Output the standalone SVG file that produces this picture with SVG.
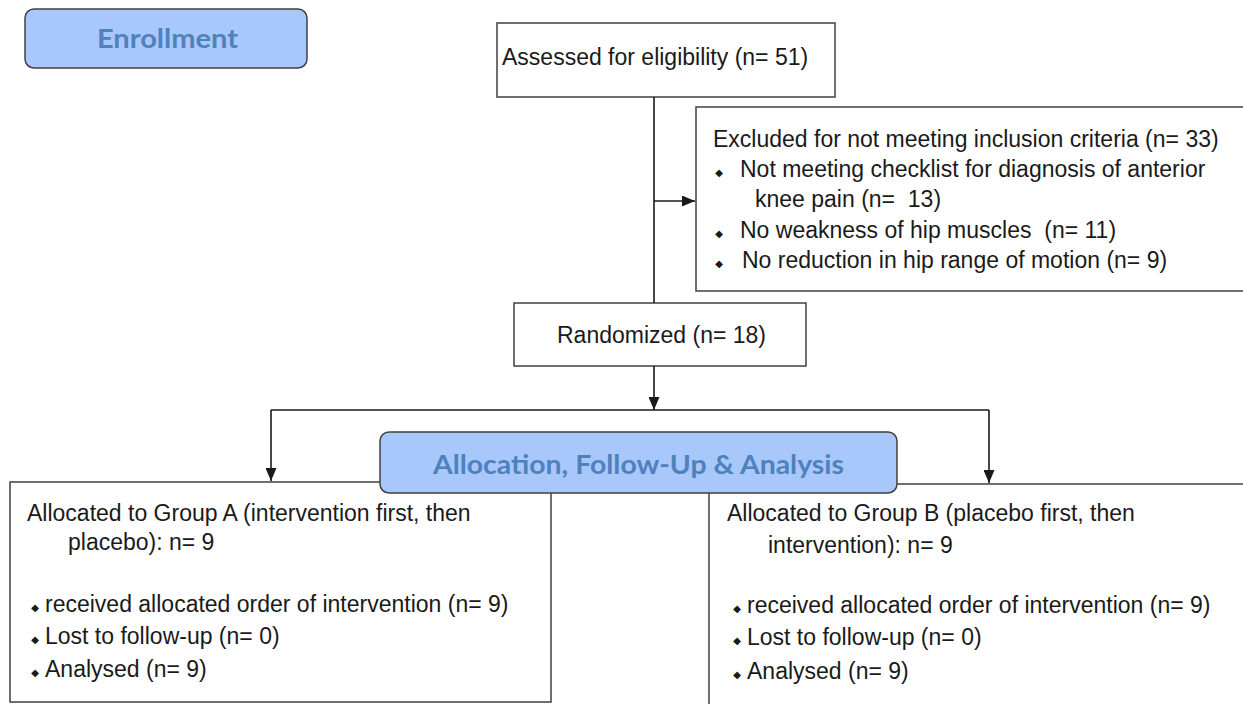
<svg xmlns="http://www.w3.org/2000/svg" width="1243" height="704" viewBox="0 0 1243 704">
<style>
  .box { fill: #ffffff; stroke: #404040; stroke-width: 1.5; }
  .hdr { fill: #a8c8fb; stroke: #404040; stroke-width: 1.5; }
  .t { font-family: "Liberation Sans", Arial, sans-serif; font-size: 23px; fill: #1a1a1a; white-space: pre; }
  .h { font-family: Lato, "Open Sans", sans-serif; font-weight: bold; font-size: 27px; fill: #4f81bd; }
  .b { font-family: "DejaVu Sans", sans-serif; font-size: 10px; fill: #1a1a1a; text-anchor: middle; dominant-baseline: central; }
  .c { fill: none; stroke: #1a1a1a; stroke-width: 1.6; }
</style>
<defs>
  <marker id="ah" viewBox="0 0 13 11" refX="13" refY="5.5" markerWidth="13" markerHeight="11" markerUnits="userSpaceOnUse" orient="auto">
    <path d="M0,0 L13,5.5 L0,11 Z" fill="#1a1a1a"/>
  </marker>
</defs>
<rect width="1243" height="704" fill="#ffffff"/>

<g id="enrollment">
  <rect class="hdr" x="25" y="9" width="282" height="59" rx="9"/>
  <text class="h" x="97" y="48" textLength="141" lengthAdjust="spacingAndGlyphs">Enrollment</text>
</g>

<g id="assessed">
  <rect class="box" x="497" y="23" width="338" height="74"/>
  <text class="t" x="502" y="65">Assessed for eligibility (n= 51)</text>
</g>

<g id="excluded">
  <rect class="box" x="696" y="107" width="570" height="184"/>
  <text class="t" x="713" y="147">Excluded for not meeting inclusion criteria (n= 33)</text>
  <text class="b" x="719" y="172">◆</text>
  <text class="t" x="740" y="177">Not meeting checklist for diagnosis of anterior</text>
  <text class="t" x="755" y="207" xml:space="preserve">knee pain (n=  13)</text>
  <text class="b" x="719" y="233">◆</text>
  <text class="t" x="740" y="238" xml:space="preserve">No weakness of hip muscles  (n= 11)</text>
  <text class="b" x="719" y="263">◆</text>
  <text class="t" x="742" y="268">No reduction in hip range of motion (n= 9)</text>
</g>

<g id="randomized">
  <rect class="box" x="514" y="303" width="292" height="63"/>
  <text class="t" x="557" y="343">Randomized (n= 18)</text>
</g>

<g id="groupA">
  <rect class="box" x="10" y="482" width="541" height="220"/>
  <text class="t" x="27" y="521">Allocated to Group A (intervention first, then</text>
  <text class="t" x="68" y="550">placebo): n= 9</text>
  <text class="b" x="35" y="607">◆</text>
  <text class="t" x="45" y="612">received allocated order of intervention (n= 9)</text>
  <text class="b" x="35" y="639">◆</text>
  <text class="t" x="45" y="644">Lost to follow-up (n= 0)</text>
  <text class="b" x="35" y="672">◆</text>
  <text class="t" x="45" y="677">Analysed (n= 9)</text>
</g>

<g id="groupB">
  <rect class="box" x="709" y="484" width="560" height="240"/>
  <text class="t" x="727" y="521">Allocated to Group B (placebo first, then</text>
  <text class="t" x="768" y="553">intervention): n= 9</text>
  <text class="b" x="737" y="608">◆</text>
  <text class="t" x="747" y="613">received allocated order of intervention (n= 9)</text>
  <text class="b" x="737" y="640">◆</text>
  <text class="t" x="747" y="645">Lost to follow-up (n= 0)</text>
  <text class="b" x="737" y="674">◆</text>
  <text class="t" x="747" y="679">Analysed (n= 9)</text>
</g>

<g id="allocation">
  <rect class="hdr" x="380" y="432" width="517" height="61" rx="9"/>
  <text class="h" x="433" y="474" textLength="411" lengthAdjust="spacingAndGlyphs">Allocation, Follow-Up &amp; Analysis</text>
</g>

<g id="connectors">
  <path class="c" d="M654,97 V303"/>
  <path class="c" d="M654,201 H695" marker-end="url(#ah)"/>
  <path class="c" d="M654,366 V410" marker-end="url(#ah)"/>
  <path class="c" d="M271,410 H989"/>
  <path class="c" d="M271,410 V481" marker-end="url(#ah)"/>
  <path class="c" d="M989,410 V483" marker-end="url(#ah)"/>
</g>
</svg>
